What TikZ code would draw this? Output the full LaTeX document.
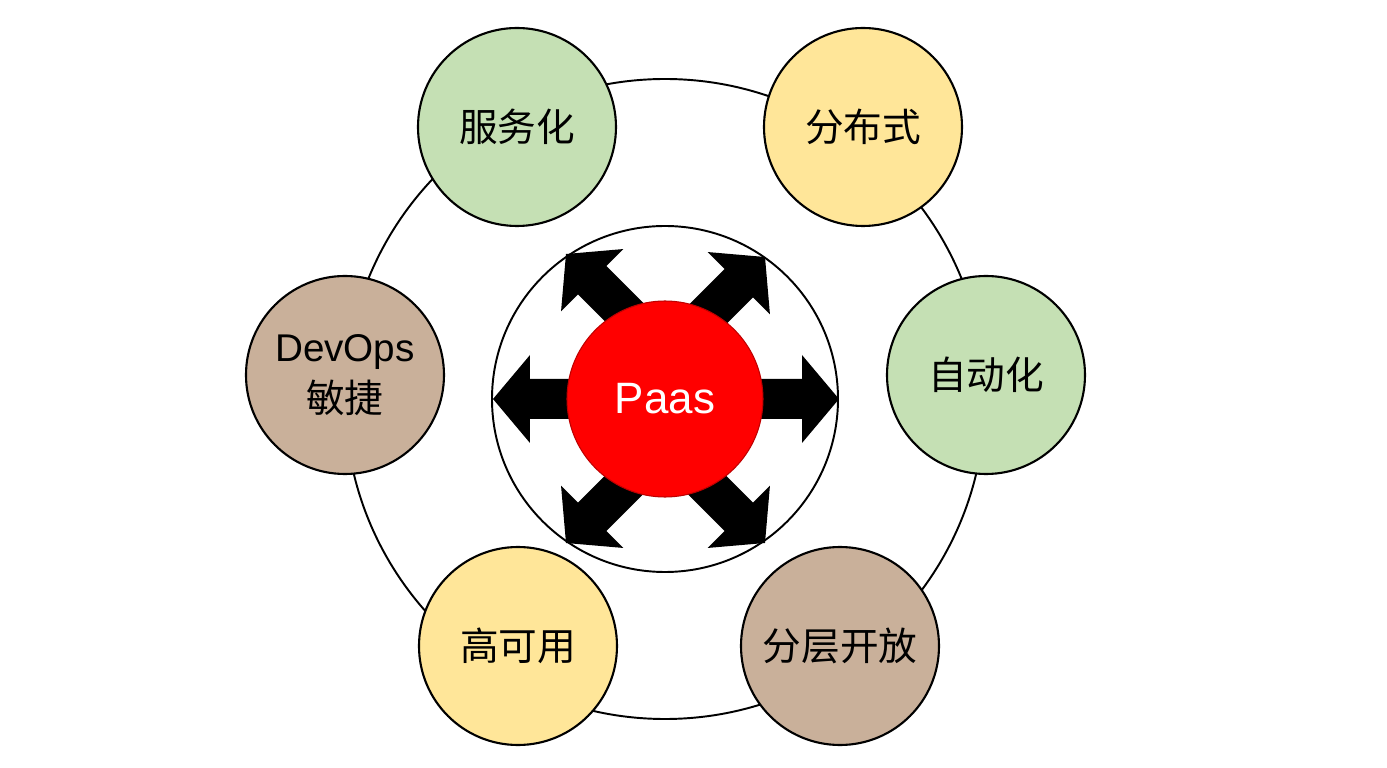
\documentclass[tikz,border=0pt]{standalone}
\usepackage{fontspec}
\setmainfont{Liberation Sans}
\newfontfamily\cjk{Noto Sans CJK SC}
\usetikzlibrary{positioning}

\definecolor{leafgreen}{RGB}{197,224,180}
\definecolor{sandyellow}{RGB}{255,230,153}
\definecolor{claybrown}{RGB}{201,176,154}

% block arrow: tip point, direction angle
\newcommand{\blockarrow}[2]{%
  \fill[arrowblock, shift={#1}, rotate=#2]
    (0,0) -- (-0.74,0.88) -- (-0.74,0.40) -- (-2.3,0.40)
    -- (-2.3,-0.40) -- (-0.74,-0.40) -- (-0.74,-0.88) -- cycle;}

\begin{document}
\begin{tikzpicture}[
    ring/.style       = {circle, draw, line width=1.1pt, fill=white},
    topic/.style      = {circle, draw, line width=1.2pt, minimum size=3.96cm,
                         align=center, font=\fontsize{22}{29}\selectfont\cjk},
    core/.style       = {circle, draw=red!75!black, line width=0.6pt, fill=red,
                         minimum size=3.92cm, text=white,
                         font=\fontsize{25}{30}\selectfont},
    arrowblock/.style = {fill=black},
]
\useasboundingbox (-13.30,-7.38) rectangle (14.44,7.98);

\node[ring, minimum size=12.8cm] (outer) at (0,0) {};
\node[ring, minimum size=6.92cm] (inner) at (0,0) {};

\blockarrow{(-3.44,0)}{180}
\blockarrow{(3.48,0)}{0}
\blockarrow{(-1.98,2.90)}{135}
\blockarrow{(2.00,2.84)}{45}
\blockarrow{(-1.98,-2.88)}{225}
\blockarrow{(2.00,-2.88)}{315}

\node[core] (paas) at (0,0) {Paas};

\node[topic, fill=leafgreen]  (service) at (-2.96,5.44)  {服务化};
\node[topic, fill=sandyellow] (distrib) at (3.96,5.44)   {分布式};
\node[topic, fill=leafgreen]  (auto)    at (6.42,0.48)   {自动化};
\node[topic, fill=claybrown]  (layered) at (3.50,-4.94)  {分层开放};
\node[topic, fill=sandyellow] (avail)   at (-2.94,-4.94) {高可用};
\node[topic, fill=claybrown]  (devops)  at (-6.40,0.48)
    {{\fontspec{Liberation Sans}DevOps}\\敏捷};

\end{tikzpicture}
\end{document}
